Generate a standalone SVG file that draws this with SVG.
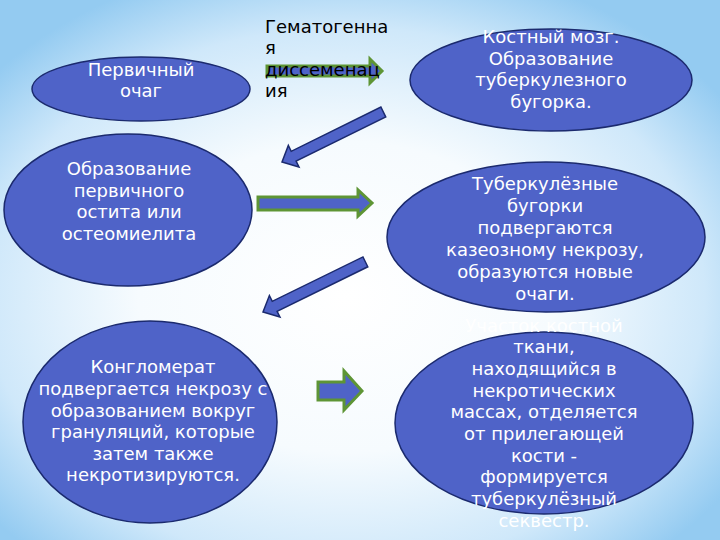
<svg xmlns="http://www.w3.org/2000/svg" width="720" height="540" viewBox="0 0 720 540">
<defs>
<radialGradient id="bg" cx="48%" cy="55%" r="64%">
<stop offset="0" stop-color="#FFFFFF"/>
<stop offset="0.45" stop-color="#F6FBFE"/>
<stop offset="0.78" stop-color="#CFE8FA"/>
<stop offset="1" stop-color="#94CBF1"/>
</radialGradient>
<style>
.node{fill:#4F63C8;stroke:#1B2A6E;stroke-width:1.5}
.t{font-family:"DejaVu Sans","Noto Sans",sans-serif;font-size:18px;fill:#FFFFFF;text-anchor:middle}
.lbl{font-family:"DejaVu Sans","Noto Sans",sans-serif;font-size:18px;fill:#000000}
.ga{fill:#4F63C8;stroke:#5E9535;stroke-width:3;stroke-linejoin:miter}
.da{fill:#4F63C8;stroke:#1B2A6E;stroke-width:1.5;stroke-linejoin:miter}
</style>
</defs>
<rect width="720" height="540" fill="url(#bg)"/>
<g id="connectors">
<polygon class="ga" points="267,66 370,66 370,59 382,71 370,83 370,76 267,76"/>
<polygon class="da" transform="translate(282,162) rotate(-26.3)" points="0,0 13,-12 13,-5.5 113,-5.5 113,5.5 13,5.5 13,12"/>
<polygon class="ga" points="258,197 358,197 358,190 372,203 358,216 358,210 258,210"/>
<polygon class="da" transform="translate(263,312) rotate(-26.1)" points="0,0 13,-12 13,-5.5 114,-5.5 114,5.5 13,5.5 13,12"/>
<polygon class="ga" points="318,382 344,382 344,371 362,391 344,410 344,400 318,400"/>
</g>
<g id="label-hematogenous">
<text class="lbl" x="265" y="33">Гематогенна</text>
<text class="lbl" x="265" y="54">я</text>
<text class="lbl" x="265" y="76">диссеменац</text>
<text class="lbl" x="265" y="97">ия</text>
</g>
<g id="node-primary">
<ellipse class="node" cx="141" cy="89" rx="109" ry="32"/>
<text class="t" x="141" y="76">Первичный</text>
<text class="t" x="141" y="97">очаг</text>
</g>
<g id="node-marrow">
<ellipse class="node" cx="551" cy="80" rx="141" ry="51"/>
<text class="t" x="551" y="43">Костный мозг.</text>
<text class="t" x="551" y="65">Образование</text>
<text class="t" x="551" y="86">туберкулезного</text>
<text class="t" x="551" y="108">бугорка.</text>
</g>
<g id="node-ostitis">
<ellipse class="node" cx="128" cy="210" rx="124" ry="76"/>
<text class="t" x="129" y="175">Образование</text>
<text class="t" x="129" y="196.5">первичного</text>
<text class="t" x="129" y="218">остита или</text>
<text class="t" x="129" y="239.5">остеомиелита</text>
</g>
<g id="node-tubercles">
<ellipse class="node" cx="546" cy="237" rx="159" ry="75"/>
<text class="t" x="545" y="190">Туберкулёзные</text>
<text class="t" x="545" y="212">бугорки</text>
<text class="t" x="545" y="234">подвергаются</text>
<text class="t" x="545" y="256">казеозному некрозу,</text>
<text class="t" x="545" y="278">образуются новые</text>
<text class="t" x="545" y="300">очаги.</text>
</g>
<g id="node-conglomerate">
<ellipse class="node" cx="150" cy="422" rx="127" ry="101"/>
<text class="t" x="153" y="373">Конгломерат</text>
<text class="t" x="153" y="395">подвергается некрозу с</text>
<text class="t" x="153" y="417">образованием вокруг</text>
<text class="t" x="153" y="438">грануляций, которые</text>
<text class="t" x="153" y="460">затем также</text>
<text class="t" x="153" y="481">некротизируются.</text>
</g>
<g id="node-sequestrum">
<ellipse class="node" cx="544" cy="423" rx="149" ry="91"/>
<text class="t" x="544" y="332">Участок костной</text>
<text class="t" x="544" y="353">ткани,</text>
<text class="t" x="544" y="375">находящийся в</text>
<text class="t" x="544" y="397">некротических</text>
<text class="t" x="544" y="418">массах, отделяется</text>
<text class="t" x="544" y="440">от прилегающей</text>
<text class="t" x="544" y="462">кости -</text>
<text class="t" x="544" y="483">формируется</text>
<text class="t" x="544" y="505">туберкулёзный</text>
<text class="t" x="544" y="527">секвестр.</text>
</g>
</svg>
